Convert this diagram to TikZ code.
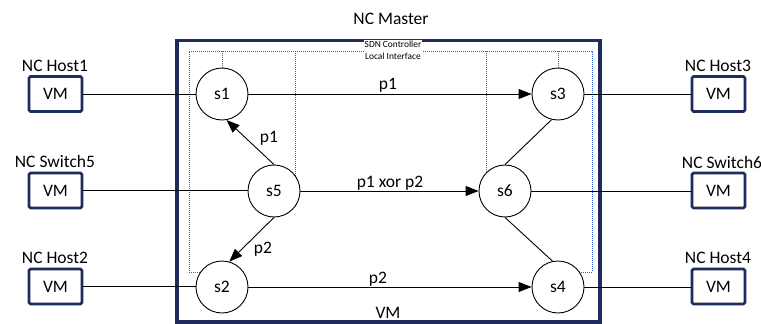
\documentclass[tikz,border=0pt]{standalone}
\usepackage{fontspec}
\setmainfont{Carlito}
\usetikzlibrary{arrows.meta,backgrounds}
\definecolor{navy}{HTML}{1F2A5E}
\definecolor{ifblue}{HTML}{2E5ED8}
\tikzset{
  x=1pt, y=-1pt,
  txt/.style={font=\fontsize{17.5}{21}\selectfont, inner sep=0pt, anchor=base},
  small/.style={font=\fontsize{9.4}{12}\selectfont, inner sep=1pt, fill=white, align=center},
  switch/.style={circle, draw=black, line width=0.9pt, fill=white, minimum size=52pt, inner sep=0pt,
                 font=\fontsize{17.5}{21}\selectfont},
  vmbox/.style={draw=navy, line width=2.6pt, rounded corners=1.5pt, minimum width=53pt, minimum height=35pt,
                inner sep=0pt, fill=white, font=\fontsize{17.5}{21}\selectfont},
  link/.style={draw=black, line width=0.9pt},
  flow/.style={link, -{Triangle[length=13pt, width=10pt]}},
  iface/.style={draw=ifblue, line width=0.9pt, dash pattern=on 1pt off 1pt}
}
\begin{document}
\begin{tikzpicture}
\useasboundingbox (0,0) rectangle (761,324);

% master host frame
\draw[navy, line width=3.5pt] (177,40.5) rectangle (600,322);
\node[txt] (master) at (391,24) {NC Master};

% switches
\node[switch] (s1) at (222,94) {s1};
\node[switch] (s3) at (558,94) {s3};
\node[switch] (s5) at (274,191) {s5};
\node[switch] (s6) at (505,191) {s6};
\node[switch] (s2) at (222,287) {s2};
\node[switch] (s4) at (558,287) {s4};

% corners of the local interface
\coordinate (ifTL) at (189,51);
\coordinate (ifTR) at (592,51);
\coordinate (ifBL) at (189,272);
\coordinate (ifBR) at (592,272);

% local interface, dotted, running behind the switches
\begin{scope}[on background layer]
\draw[iface] (s2.center |- ifBL) -- (ifBL) -- (ifTL) -- (ifTR) -- (ifBR) -- (s4.center |- ifBR);
\draw[iface] (s1.center |- ifTL) -- (s1.center);
\draw[iface] (s3.center |- ifTR) -- (s3.center);
\draw[iface] (295,51) -- (295,191);
\draw[iface] (486,51) -- (486,191);
\end{scope}
\node[small] (sdn) at (393,50) {SDN Controller\\Local Interface};

% virtual machines
\node[vmbox] (h1) at (55.5,94) {VM};
\node[vmbox] (sw5) at (55.5,190.5) {VM};
\node[vmbox] (h2) at (55.5,286.5) {VM};
\node[vmbox] (h3) at (718.5,94) {VM};
\node[vmbox] (sw6) at (718.5,190.5) {VM};
\node[vmbox] (h4) at (718.5,286.5) {VM};

\node[txt] (lh1) at (55,71) {NC Host1};
\node[txt] (lsw5) at (55,167) {NC Switch5};
\node[txt] (lh2) at (55,263) {NC Host2};
\node[txt] (lh3) at (718,71) {NC Host3};
\node[txt] (lsw6) at (722,168) {NC Switch6};
\node[txt] (lh4) at (718,263) {NC Host4};

% host links
\draw[link] (h1.east) -- (h1.east -| s1.west);
\draw[link] (sw5.east) -- (sw5.east -| s5.west);
\draw[link] (h2.east) -- (h2.east -| s2.west);
\draw[link] (s3.east) -- (s3.east -| h3.west);
\draw[link] (s6.east) -- (s6.east -| sw6.west);
\draw[link] (s4.east) -- (s4.east -| h4.west);

% flows between switches
\draw[flow] (s1) -- (s3);
\draw[flow] (s5) -- (s6);
\draw[flow] (s2) -- (s4);
\draw[flow] (s5.north) -- (s1.-80);
\draw[flow] (s5.south) -- (s2.74);
\draw[link] (s6.north) -- (s3.-104);
\draw[link] (s6.south) -- (s4.102);

\node[txt] (lp1a) at (388,89) {p1};
\node[txt] (lxor) at (390,187) {p1 xor p2};
\node[txt] (lp2a) at (378,283) {p2};
\node[txt] (lp1b) at (269,142) {p1};
\node[txt] (lp2b) at (263,253) {p2};
\node[txt] (lvm) at (388,318) {VM};
\end{tikzpicture}
\end{document}
